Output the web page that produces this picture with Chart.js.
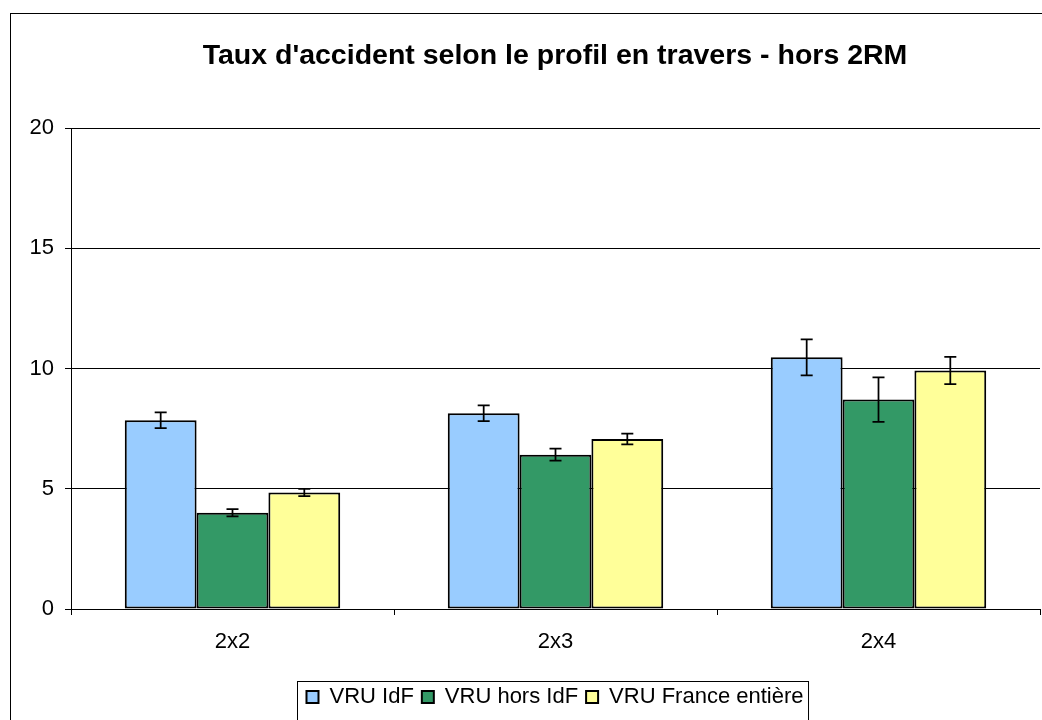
<!DOCTYPE html>
<html>
<head>
<meta charset="utf-8">
<script src="https://cdn.jsdelivr.net/npm/chart.js@4"></script>
<style>
  html, body { margin: 0; padding: 0; background: #fff; overflow: hidden; width: 1042px; height: 720px; }
  #frame {
    position: absolute; left: 10px; top: 13px;
    width: 1088px; height: 720px;
    border: 1px solid #000;
  }
</style>
</head>
<body>
<div id="frame"><canvas id="chart" width="1088" height="720"></canvas></div>
<script>
const categories = ['2x2', '2x3', '2x4'];
const seriesNames = ['VRU IdF', 'VRU hors IdF', 'VRU France entière'];
const vruIdf = [7.85, 8.14, 10.47];
const vruHorsIdf = [4.0, 6.42, 8.71];
const vruFrance = [4.85, 7.07, 9.92];
// half-width of the error bars
const errIdf = [0.33, 0.33, 0.75];
const errHorsIdf = [0.15, 0.25, 0.93];
const errFrance = [0.15, 0.22, 0.57];
const yTicks = [0, 5, 10, 15, 20];

const colors = ['#99CCFF', '#339966', '#FFFF99'];
const errors = [errIdf, errHorsIdf, errFrance];

Chart.defaults.font.family = 'Arial, "Liberation Sans", sans-serif';
Chart.defaults.color = '#000';

// draws error bars on top of each bar
const errorBars = {
    id: 'errorBars',
    afterDatasetsDraw(chart) {
        const ctx = chart.ctx;
        const y = chart.scales.y;
        ctx.save();
        ctx.strokeStyle = '#000';
        ctx.lineWidth = 1.75;
        chart.data.datasets.forEach((ds, i) => {
            const meta = chart.getDatasetMeta(i);
            meta.data.forEach((bar, j) => {
                const v = ds.data[j];
                const e = errors[i][j];
                const top = y.getPixelForValue(v + e);
                const bot = y.getPixelForValue(v - e);
                const x = bar.x;
                ctx.beginPath();
                ctx.moveTo(x, top); ctx.lineTo(x, bot);
                ctx.moveTo(x - 6, top); ctx.lineTo(x + 6, top);
                ctx.moveTo(x - 6, bot); ctx.lineTo(x + 6, bot);
                ctx.stroke();
            });
        });
        ctx.restore();
    }
};

// box around the legend
const legendBox = {
    id: 'legendBox',
    afterDraw(chart) {
        const lg = chart.legend;
        if (!lg || !lg.legendHitBoxes.length) return;
        const boxes = lg.legendHitBoxes;
        const left = boxes[0].left - 9;
        const right = boxes[boxes.length - 1].left + boxes[boxes.length - 1].width + 5;
        const ctx = chart.ctx;
        ctx.save();
        ctx.strokeStyle = '#000';
        ctx.lineWidth = 1;
        ctx.strokeRect(Math.round(left) + 0.5, Math.round(lg.top + 3) + 0.5, right - left, 60);
        ctx.restore();
    }
};

const datasets = [vruIdf, vruHorsIdf, vruFrance].map((d, i) => ({
    label: seriesNames[i],
    data: d,
    backgroundColor: colors[i],
    borderColor: '#000',
    borderWidth: 2,
    borderSkipped: false,
    barPercentage: 1.0,
    categoryPercentage: 0.667
}));

new Chart(document.getElementById('chart'), {
    type: 'bar',
    data: { labels: categories, datasets: datasets },
    options: {
        responsive: false,
        animation: false,
        layout: { padding: { left: 0, right: 0, top: 0, bottom: 16 } },
        plugins: {
            title: {
                display: true,
                text: "Taux d'accident selon le profil en travers - hors 2RM",
                font: { size: 28.5, weight: 'bold' },
                color: '#000',
                padding: { top: 25, bottom: 55 }
            },
            legend: {
                position: 'bottom',
                labels: {
                    boxWidth: 12,
                    boxHeight: 12,
                    padding: 8,
                    font: { size: 22 },
                    color: '#000'
                }
            },
            tooltip: { enabled: false }
        },
        scales: {
            x: {
                grid: {
                    offset: true,
                    drawOnChartArea: false,
                    color: '#000',
                    tickLength: 6
                },
                border: { color: '#000', width: 1 },
                ticks: { font: { size: 22 }, padding: 14, color: '#000' },
                afterFit(scale) { scale.height = 69; }
            },
            y: {
                min: 0,
                max: 20,
                afterBuildTicks(scale) { scale.ticks = yTicks.map(v => ({ value: v })); },
                grid: { color: '#000', tickLength: 6 },
                border: { color: '#000', width: 1 },
                ticks: { font: { size: 22 }, padding: 11, color: '#000' },
                afterFit(scale) { scale.width = 60; }
            },
            // empty right-hand space, the chart frame goes on past the window
            spacer: {
                position: 'right',
                min: 0,
                max: 20,
                grid: { display: false },
                border: { display: false },
                ticks: { display: false },
                afterFit(scale) { scale.width = 59; }
            }
        }
    },
    plugins: [errorBars, legendBox]
});
</script>
</body>
</html>
